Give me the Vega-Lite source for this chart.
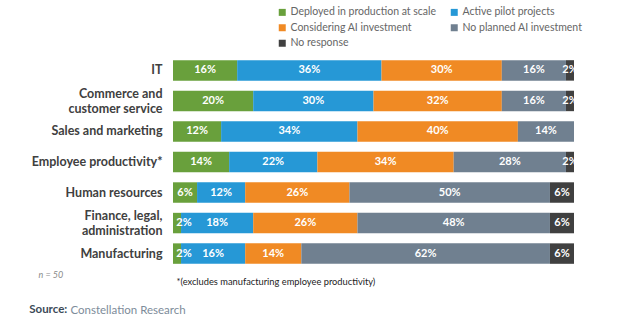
{
  "$schema": "https://vega.github.io/schema/vega-lite/v6.json",
  "width": 401,
  "height": 214,
  "autosize": {"type": "none"},
  "padding": {"left": 173, "top": 55, "right": 48, "bottom": 62},
  "background": "white",
  "config": {
    "font": "Lato",
    "view": {"stroke": null}
  },
  "title": {
    "text": "Source:",
    "subtitle": "\u200b\u00a0\u00a0\u00a0\u00a0\u00a0\u00a0\u00a0\u00a0\u00a0\u00a0\u00a0\u00a0\u00a0\u00a0Constellation Research",
    "orient": "bottom",
    "anchor": "start",
    "frame": "bounds",
    "offset": 18,
    "dx": -2,
    "fontSize": 11.5,
    "fontWeight": "bold",
    "color": "#3b4a58",
    "subtitleFontSize": 11.5,
    "subtitleColor": "#7d8c9a",
    "subtitlePadding": -11
  },
  "data": {
    "values": [
      {"area": "IT", "status": "Deployed in production at scale", "rank": 1, "pct": 0.16},
      {"area": "IT", "status": "Active pilot projects", "rank": 2, "pct": 0.36},
      {"area": "IT", "status": "Considering AI investment", "rank": 3, "pct": 0.30},
      {"area": "IT", "status": "No planned AI investment", "rank": 4, "pct": 0.16},
      {"area": "IT", "status": "No response", "rank": 5, "pct": 0.02},
      {"area": "Commerce and|customer service", "status": "Deployed in production at scale", "rank": 1, "pct": 0.20},
      {"area": "Commerce and|customer service", "status": "Active pilot projects", "rank": 2, "pct": 0.30},
      {"area": "Commerce and|customer service", "status": "Considering AI investment", "rank": 3, "pct": 0.32},
      {"area": "Commerce and|customer service", "status": "No planned AI investment", "rank": 4, "pct": 0.16},
      {"area": "Commerce and|customer service", "status": "No response", "rank": 5, "pct": 0.02},
      {"area": "Sales and marketing", "status": "Deployed in production at scale", "rank": 1, "pct": 0.12},
      {"area": "Sales and marketing", "status": "Active pilot projects", "rank": 2, "pct": 0.34},
      {"area": "Sales and marketing", "status": "Considering AI investment", "rank": 3, "pct": 0.40},
      {"area": "Sales and marketing", "status": "No planned AI investment", "rank": 4, "pct": 0.14},
      {"area": "Employee productivity*", "status": "Deployed in production at scale", "rank": 1, "pct": 0.14},
      {"area": "Employee productivity*", "status": "Active pilot projects", "rank": 2, "pct": 0.22},
      {"area": "Employee productivity*", "status": "Considering AI investment", "rank": 3, "pct": 0.34},
      {"area": "Employee productivity*", "status": "No planned AI investment", "rank": 4, "pct": 0.28},
      {"area": "Employee productivity*", "status": "No response", "rank": 5, "pct": 0.02},
      {"area": "Human resources", "status": "Deployed in production at scale", "rank": 1, "pct": 0.06},
      {"area": "Human resources", "status": "Active pilot projects", "rank": 2, "pct": 0.12},
      {"area": "Human resources", "status": "Considering AI investment", "rank": 3, "pct": 0.26},
      {"area": "Human resources", "status": "No planned AI investment", "rank": 4, "pct": 0.50},
      {"area": "Human resources", "status": "No response", "rank": 5, "pct": 0.06},
      {"area": "Finance, legal,|administration", "status": "Deployed in production at scale", "rank": 1, "pct": 0.02},
      {"area": "Finance, legal,|administration", "status": "Active pilot projects", "rank": 2, "pct": 0.18},
      {"area": "Finance, legal,|administration", "status": "Considering AI investment", "rank": 3, "pct": 0.26},
      {"area": "Finance, legal,|administration", "status": "No planned AI investment", "rank": 4, "pct": 0.48},
      {"area": "Finance, legal,|administration", "status": "No response", "rank": 5, "pct": 0.06},
      {"area": "Manufacturing", "status": "Deployed in production at scale", "rank": 1, "pct": 0.02},
      {"area": "Manufacturing", "status": "Active pilot projects", "rank": 2, "pct": 0.16},
      {"area": "Manufacturing", "status": "Considering AI investment", "rank": 3, "pct": 0.14},
      {"area": "Manufacturing", "status": "No planned AI investment", "rank": 4, "pct": 0.62},
      {"area": "Manufacturing", "status": "No response", "rank": 5, "pct": 0.06}
    ]
  },
  "encoding": {
    "y": {
      "field": "area",
      "type": "nominal",
      "sort": null,
      "scale": {"paddingInner": 0.33, "paddingOuter": 0.17},
      "axis": {
        "title": "n = 50",
        "titleAngle": 0,
        "titleX": -135,
        "titleY": 219,
        "titleAlign": "left",
        "titleBaseline": "middle",
        "titleFontSize": 9,
        "titleFontStyle": "italic",
        "titleFontWeight": "normal",
        "titleColor": "#8a8a8a",
        "labelExpr": "split(datum.label, '|')",
        "labelFontSize": 12.5,
        "labelFontWeight": "bold",
        "labelColor": "#404040",
        "labelLineHeight": 15,
        "labelOffset": {"condition": {"test": "indexof(datum.value, '|') >= 0", "value": -7}, "value": 0},
        "labelPadding": 11,
        "domain": false,
        "ticks": false,
        "labelLimit": 200
      }
    },
    "x": {
      "field": "pct",
      "type": "quantitative",
      "stack": "zero",
      "scale": {"domain": [0, 1], "nice": false},
      "axis": {
        "title": "*(excludes manufacturing employee productivity)",
        "labels": false,
        "ticks": false,
        "domain": false,
        "grid": false,
        "titleX": 3,
        "titleY": 12,
        "titleAlign": "left",
        "titleAnchor": "start",
        "titleBaseline": "middle",
        "titleFontSize": 9.3,
        "titleFontWeight": "normal",
        "titleColor": "#222222"
      }
    },
    "order": {"field": "rank", "type": "quantitative", "sort": "ascending"},
    "color": {
      "field": "status",
      "type": "nominal",
      "sort": ["Deployed in production at scale", "Active pilot projects", "Considering AI investment", "No planned AI investment", "No response"],
      "scale": {
        "domain": ["Deployed in production at scale", "Active pilot projects", "Considering AI investment", "No planned AI investment", "No response"],
        "range": ["#69a03c", "#2698d6", "#f08a24", "#708090", "#404040"]
      },
      "legend": {
        "title": null,
        "orient": "none",
        "direction": "horizontal",
        "legendX": 104,
        "legendY": -48,
        "columns": 2,
        "columnPadding": 12,
        "rowPadding": 4.5,
        "labelOffset": 3,
        "symbolType": "square",
        "symbolSize": 49,
        "symbolStrokeWidth": 0,
        "labelFontSize": 10.5,
        "labelColor": "#666666",
        "labelLimit": 200
      }
    }
  },
  "layer": [
    {"mark": {"type": "bar"}},
    {
      "mark": {
        "type": "text",
        "color": "white",
        "fontWeight": "bold",
        "fontSize": 11,
        "dx": {"expr": "datum.rank == 1 && datum.pct < 0.05 ? 7 : 0"}
      },
      "encoding": {
        "x": {"field": "pct", "type": "quantitative", "stack": "zero", "bandPosition": 0.5},
        "text": {"field": "pct", "type": "quantitative", "format": ".0%"},
        "color": {"value": "white"}
      }
    }
  ]
}
